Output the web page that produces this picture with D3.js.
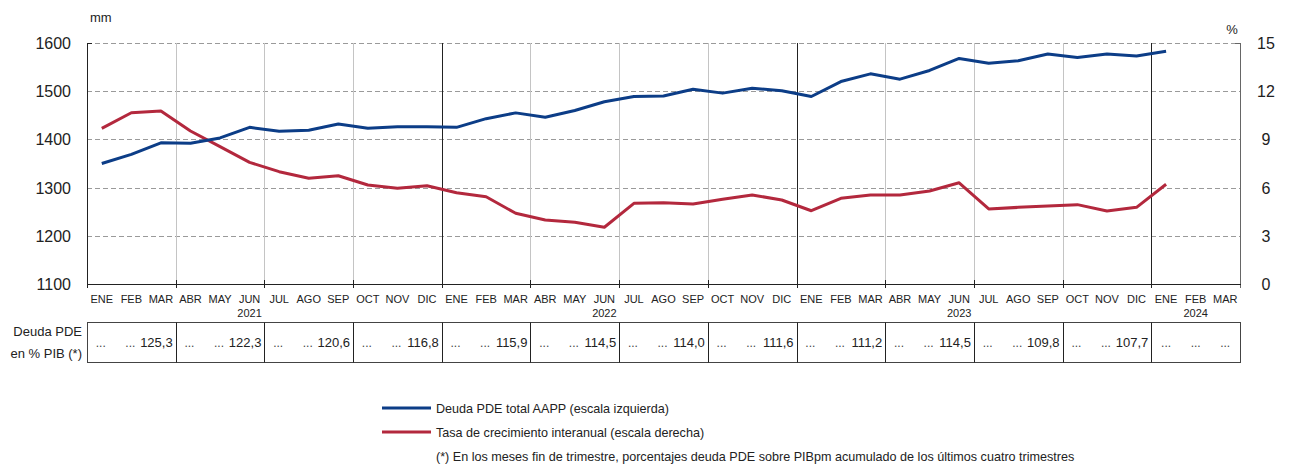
<!DOCTYPE html>
<html>
<head>
<meta charset="utf-8">
<script src="https://cdn.jsdelivr.net/npm/d3@7"></script>
<style>
  body { margin: 0; background: #fff; }
  svg { font-family: "Liberation Sans", Arial, sans-serif; }
</style>
</head>
<body>
<div id="chart"></div>
<script>
// months Jan 2021 - Mar 2024
var monthNames = ["ENE", "FEB", "MAR", "ABR", "MAY", "JUN", "JUL", "AGO", "SEP", "OCT", "NOV", "DIC"];
var years = ["2021", "2022", "2023", "2024"];
var months = [];
years.forEach(function (y, j) {
  var n = j < 3 ? 12 : 3;
  for (var m = 0; m < n; m++) months.push({ label: monthNames[m], year: y });
});

// Deuda PDE total AAPP (mm), ene 2021 - ene 2024
var debt = [1350, 1369, 1393, 1392, 1403, 1425, 1417, 1419, 1432, 1423, 1426, 1426,
            1425, 1443, 1455, 1446, 1460, 1478, 1489, 1490, 1504, 1496, 1506, 1501,
            1489, 1520, 1536, 1525, 1543, 1568, 1558, 1563, 1577, 1570, 1577, 1573,
            1583];
// Tasa de crecimiento interanual (%)
var growth = [9.69, 10.66, 10.77, 9.52, 8.55, 7.57, 6.99, 6.58, 6.74, 6.16, 5.96, 6.12,
              5.68, 5.43, 4.40, 3.98, 3.84, 3.53, 5.02, 5.06, 4.98, 5.27, 5.54, 5.23,
              4.56, 5.33, 5.54, 5.54, 5.79, 6.30, 4.67, 4.77, 4.85, 4.94, 4.54, 4.77,
              6.21];
// Deuda PDE en % PIB, fin de trimestre
var quarterPct = ["125,3", "122,3", "120,6", "116,8", "115,9", "114,5", "114,0",
                  "111,6", "111,2", "114,5", "109,8", "107,7", null];
var leftTicks = [1100, 1200, 1300, 1400, 1500, 1600];
var rightTicks = [0, 3, 6, 9, 12, 15];

(function () {
  var width = 1289, height = 469;
  var pl = 87, pr = 1240, pt = 43, pb = 284;
  var tableTop = 322.5, tableBottom = 362.5;
  var blue = "#0c3d87", red = "#b3283d";

  var svg = d3.select("#chart").append("svg")
    .attr("width", width).attr("height", height);

  var x = d3.scaleBand().domain(d3.range(months.length)).range([pl, pr]).padding(0);
  var bw = x.bandwidth();
  var cx = function (i) { return x(i) + bw / 2; };
  var xl = function (i) { return Math.round(x(i)) + 0.5; };
  var yL = d3.scaleLinear().domain([1100, 1600]).range([pb, pt]);
  var yR = d3.scaleLinear().domain([0, 15]).range([pb, pt]);

  // horizontal dashed grid
  svg.append("g").selectAll("line").data(leftTicks.slice(1)).join("line")
    .attr("x1", pl).attr("x2", pr)
    .attr("y1", function (d) { return Math.round(yL(d)) + 0.5; })
    .attr("y2", function (d) { return Math.round(yL(d)) + 0.5; })
    .attr("stroke", "#9a9a9a").attr("stroke-dasharray", "5,3").attr("stroke-width", 1);

  // vertical quarter lines
  var quarterIdx = d3.range(3, months.length, 3);
  svg.append("g").selectAll("line").data(quarterIdx).join("line")
    .attr("x1", xl).attr("x2", xl)
    .attr("y1", pt).attr("y2", pb)
    .attr("stroke", function (d) { return d % 12 === 0 ? "#222" : "#c4c4c4"; })
    .attr("stroke-width", 1);

  // bottom ticks
  svg.append("g").selectAll("line").data(quarterIdx).join("line")
    .attr("x1", xl).attr("x2", xl)
    .attr("y1", pb - 4).attr("y2", pb + 4)
    .attr("stroke", "#222");

  // frame
  svg.append("line").attr("x1", pl + 0.5).attr("x2", pl + 0.5).attr("y1", pt).attr("y2", pb + 4).attr("stroke", "#222");
  svg.append("line").attr("x1", pr + 0.5).attr("x2", pr + 0.5).attr("y1", pt).attr("y2", pb + 4).attr("stroke", "#666");
  svg.append("line").attr("x1", pl).attr("x2", pl + 5).attr("y1", pt + 0.5).attr("y2", pt + 0.5).attr("stroke", "#222");
  svg.append("line").attr("x1", pr - 5).attr("x2", pr + 0.5).attr("y1", pt + 0.5).attr("y2", pt + 0.5).attr("stroke", "#666");
  svg.append("line").attr("x1", pl).attr("x2", pr + 1).attr("y1", pb + 0.5).attr("y2", pb + 0.5).attr("stroke", "#222");

  // left axis labels
  svg.append("g").selectAll("text").data(leftTicks).join("text")
    .attr("x", 71).attr("y", function (d) { return yL(d) + 6; })
    .attr("text-anchor", "end").attr("font-size", 16).attr("fill", "#222")
    .text(function (d) { return d; });
  svg.append("text").attr("x", 90).attr("y", 22).attr("font-size", 13).attr("fill", "#222").text("mm");

  // right axis labels
  svg.append("g").selectAll("text").data(rightTicks).join("text")
    .attr("x", 1266).attr("y", function (d) { return yR(d) + 6; })
    .attr("text-anchor", "middle").attr("font-size", 16).attr("fill", "#222")
    .text(function (d) { return d; });
  svg.append("text").attr("x", 1232).attr("y", 34).attr("text-anchor", "middle")
    .attr("font-size", 13).attr("fill", "#222").text("%");

  // month labels
  svg.append("g").selectAll("text").data(months).join("text")
    .attr("x", function (d, i) { return cx(i); }).attr("y", 303)
    .attr("text-anchor", "middle").attr("font-size", 11).attr("fill", "#222")
    .text(function (d) { return d.label; });

  // year labels
  years.forEach(function (y, j) {
    var idx = j < 3 ? j * 12 + 5 : 37;
    svg.append("text").attr("x", cx(idx)).attr("y", 317)
      .attr("text-anchor", "middle").attr("font-size", 11).attr("fill", "#222").text(y);
  });

  // lines
  var lineL = d3.line().x(function (d, i) { return cx(i); }).y(function (d) { return yL(d); });
  var lineR = d3.line().x(function (d, i) { return cx(i); }).y(function (d) { return yR(d); });
  svg.append("path").datum(growth).attr("d", lineR)
    .attr("fill", "none").attr("stroke", red).attr("stroke-width", 3).attr("stroke-linejoin", "round");
  svg.append("path").datum(debt).attr("d", lineL)
    .attr("fill", "none").attr("stroke", blue).attr("stroke-width", 3).attr("stroke-linejoin", "round");

  // table
  var table = svg.append("g");
  table.append("rect").attr("x", pl + 0.5).attr("y", tableTop).attr("width", pr - pl)
    .attr("height", tableBottom - tableTop).attr("fill", "none").attr("stroke", "#444");
  table.selectAll("line").data(quarterIdx).join("line")
    .attr("x1", xl).attr("x2", xl)
    .attr("y1", tableTop).attr("y2", tableBottom)
    .attr("stroke", "#222");
  table.append("text").attr("x", 82).attr("y", 336).attr("text-anchor", "end")
    .attr("font-size", 13).attr("fill", "#222").text("Deuda PDE");
  table.append("text").attr("x", 82).attr("y", 358).attr("text-anchor", "end")
    .attr("font-size", 13).attr("fill", "#222").text("en % PIB (*)");

  quarterPct.forEach(function (v, q) {
    var i0 = q * 3;
    var nd = v === null ? 3 : 2;
    for (var k = 0; k < nd; k++) {
      table.append("text").attr("x", cx(i0 + k) + (v === null ? 0 : -1)).attr("y", 347)
        .attr("text-anchor", "middle").attr("font-size", 12).attr("fill", "#444").text("...");
    }
    if (v !== null) {
      table.append("text").attr("x", x(i0 + 2) + bw - 3).attr("y", 347)
        .attr("text-anchor", "end").attr("font-size", 13).attr("fill", "#222").text(v);
    }
  });

  // legend
  var legend = [
    { label: "Deuda PDE total AAPP (escala izquierda)", color: blue, y: 408 },
    { label: "Tasa de crecimiento interanual (escala derecha)", color: red, y: 432 }
  ];
  var lg = svg.append("g");
  legend.forEach(function (d) {
    lg.append("line").attr("x1", 382).attr("x2", 431).attr("y1", d.y).attr("y2", d.y)
      .attr("stroke", d.color).attr("stroke-width", 3);
    lg.append("text").attr("x", 436).attr("y", d.y + 5).attr("font-size", 12.6).attr("fill", "#222").text(d.label);
  });
  lg.append("text").attr("x", 436).attr("y", 461).attr("font-size", 12.6).attr("fill", "#222")
    .text("(*) En los meses fin de trimestre, porcentajes deuda PDE sobre PIBpm acumulado de los últimos cuatro trimestres");
})();
</script>
</body>
</html>
